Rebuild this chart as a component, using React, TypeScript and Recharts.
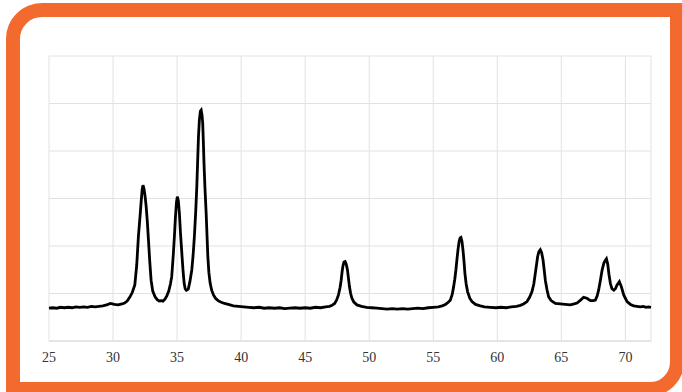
import React from 'react';
import { LineChart, Line, XAxis, YAxis, CartesianGrid } from 'recharts';

// 2θ (degrees) and intensity (arbitrary units)
const twoTheta = [
  25.0, 25.3, 25.6, 25.9, 26.2, 26.5, 26.8, 27.1, 27.4, 27.7, 28.0, 28.3, 28.6, 28.9, 29.2, 29.5, 29.8, 30.1, 30.4, 30.7,
  30.9, 31.1, 31.3, 31.5, 31.7, 31.85, 31.98, 32.1, 32.2, 32.28, 32.34, 32.42, 32.5, 32.58, 32.68, 32.76, 32.86, 32.97,
  33.1, 33.28, 33.45, 33.6, 33.75, 33.9, 34.05, 34.2, 34.35, 34.48, 34.58, 34.7, 34.79, 34.87, 34.95, 35.02, 35.1, 35.18,
  35.27, 35.37, 35.46, 35.55, 35.63, 35.72, 35.8, 35.88, 36.0, 36.15, 36.25, 36.35, 36.45, 36.54, 36.6, 36.67, 36.74,
  36.82, 36.88, 36.95, 37.0, 37.05, 37.1, 37.18, 37.27, 37.34, 37.4, 37.48, 37.58, 37.7, 37.84, 38.0, 38.2, 38.4, 38.7,
  39.0, 39.4, 39.8, 40.2, 40.6, 41.0, 41.4, 41.8, 42.2, 42.6, 43.0, 43.4, 43.8, 44.2, 44.6, 45.0, 45.4, 45.8, 46.2, 46.6,
  46.9, 47.1, 47.3, 47.45, 47.6, 47.72, 47.81, 47.88, 47.95, 48.03, 48.12, 48.2, 48.3, 48.38, 48.46, 48.55, 48.65, 48.8,
  49.04, 49.4, 49.8, 50.2, 50.6, 51.0, 51.4, 51.8, 52.2, 52.6, 53.0, 53.4, 53.8, 54.2, 54.6, 55.0, 55.4, 55.7, 55.95,
  56.15, 56.33, 56.48, 56.59, 56.68, 56.77, 56.85, 56.93, 57.02, 57.1, 57.16, 57.24, 57.32, 57.4, 57.47, 57.57, 57.68,
  57.85, 58.02, 58.3, 58.67, 59.0, 59.45, 59.9, 60.3, 60.7, 61.1, 61.5, 61.8, 62.05, 62.32, 62.52, 62.71, 62.85, 62.97,
  63.07, 63.15, 63.25, 63.36, 63.46, 63.57, 63.66, 63.75, 63.88, 64.01, 64.2, 64.53, 64.92, 65.3, 65.7, 66.0, 66.23,
  66.5, 66.74, 67.0, 67.27, 67.5, 67.66, 67.8, 67.91, 68.05, 68.18, 68.32, 68.44, 68.52, 68.62, 68.72, 68.83, 68.95,
  69.1, 69.22, 69.35, 69.53, 69.69, 69.87, 70.0, 70.13, 70.4, 70.65, 70.9, 71.17, 71.4, 71.6, 71.8, 72.0,
];

const intensity = [
  0.69, 0.7, 0.69, 0.71, 0.7, 0.71, 0.7, 0.72, 0.71, 0.72, 0.71, 0.73, 0.72, 0.73, 0.74, 0.76, 0.79, 0.77, 0.76, 0.78,
  0.8, 0.84, 0.92, 1.02, 1.18, 1.6, 2.2, 2.6, 2.95, 3.2, 3.28, 3.2, 3.05, 2.85, 2.5, 2.15, 1.7, 1.28,
  1.05, 0.93, 0.87, 0.84, 0.85, 0.84, 0.88, 0.95, 1.05, 1.2, 1.35, 1.8, 2.2, 2.6, 2.92, 3.04, 2.95, 2.69,
  2.25, 1.85, 1.5, 1.22, 1.1, 1.07, 1.08, 1.1, 1.25, 1.5, 1.8, 2.2, 2.7, 3.25, 3.74, 4.3, 4.65,
  4.84, 4.86, 4.75, 4.59, 4.2, 3.75, 3.2, 2.69, 2.2, 1.78, 1.45, 1.22, 1.07, 0.97, 0.9, 0.85, 0.82, 0.79,
  0.77, 0.74, 0.73, 0.72, 0.71, 0.7, 0.71, 0.69, 0.7, 0.69, 0.7, 0.68, 0.69, 0.7, 0.69, 0.7, 0.69, 0.71, 0.7, 0.72,
  0.73, 0.75, 0.79, 0.86, 0.97, 1.12, 1.28, 1.45, 1.58, 1.66, 1.67, 1.62, 1.5, 1.32, 1.14, 1.0, 0.9, 0.82,
  0.76, 0.73, 0.71, 0.7, 0.69, 0.68, 0.67, 0.68, 0.67, 0.68, 0.67, 0.68, 0.69, 0.68, 0.7, 0.71, 0.72, 0.74, 0.77,
  0.81, 0.86, 0.98, 1.14, 1.3, 1.5, 1.72, 1.92, 2.1, 2.17, 2.18, 2.1, 1.92, 1.68, 1.43, 1.2, 1.04,
  0.9, 0.83, 0.77, 0.74, 0.72, 0.71, 0.7, 0.71, 0.7, 0.72, 0.73, 0.75, 0.78, 0.83, 0.92, 1.04, 1.2, 1.43,
  1.62, 1.78, 1.88, 1.92, 1.86, 1.71, 1.5, 1.28, 1.08, 0.93, 0.85, 0.79, 0.78, 0.77, 0.76, 0.78, 0.8,
  0.86, 0.92, 0.9, 0.85, 0.85, 0.86, 0.95, 1.07, 1.28, 1.49, 1.64, 1.7, 1.73, 1.62, 1.4, 1.21, 1.1,
  1.07, 1.1, 1.18, 1.25, 1.14, 0.97, 0.9, 0.83, 0.77, 0.74, 0.73, 0.72, 0.73, 0.71, 0.72, 0.71,
];

const xTicks = [25, 30, 35, 40, 45, 50, 55, 60, 65, 70];
const yTicks = [0, 1, 2, 3, 4, 5, 6];

const data = twoTheta.map((t, i) => ({ t, v: intensity[i] }));

const serif = '"Liberation Serif", "Times New Roman", serif';

export default function App() {
  return (
    <div style={{ position: 'fixed', left: 0, top: 0, width: 682, height: 392, overflow: 'hidden', background: '#fff' }}>
      <div
        style={{
          position: 'absolute',
          left: 6,
          top: 3,
          width: 678,
          height: 393,
          boxSizing: 'border-box',
          border: '14px solid #f26a2d',
          borderTopLeftRadius: 36,
          borderBottomRightRadius: 34,
        }}
      />
      <div style={{ position: 'absolute', left: 0, top: 0, fontFamily: serif }}>
        <LineChart
          width={682}
          height={392}
          data={data}
          margin={{ top: 56, right: 31, bottom: 21, left: 49 }}
          style={{ fontFamily: serif }}
        >
          <CartesianGrid stroke="#e2e2e2" strokeWidth={1} />
          <XAxis
            dataKey="t"
            type="number"
            domain={[25, 72]}
            ticks={xTicks}
            tickLine={false}
            tickMargin={5}
            axisLine={{ stroke: '#d9d9d9' }}
            tick={{ fill: '#333', fontSize: 14, fontFamily: serif }}
          />
          <YAxis hide type="number" domain={[0, 6]} ticks={yTicks} />
          <Line
            type="linear"
            dataKey="v"
            stroke="#000"
            strokeWidth={2.8}
            dot={false}
            isAnimationActive={false}
          />
        </LineChart>
      </div>
    </div>
  );
}
